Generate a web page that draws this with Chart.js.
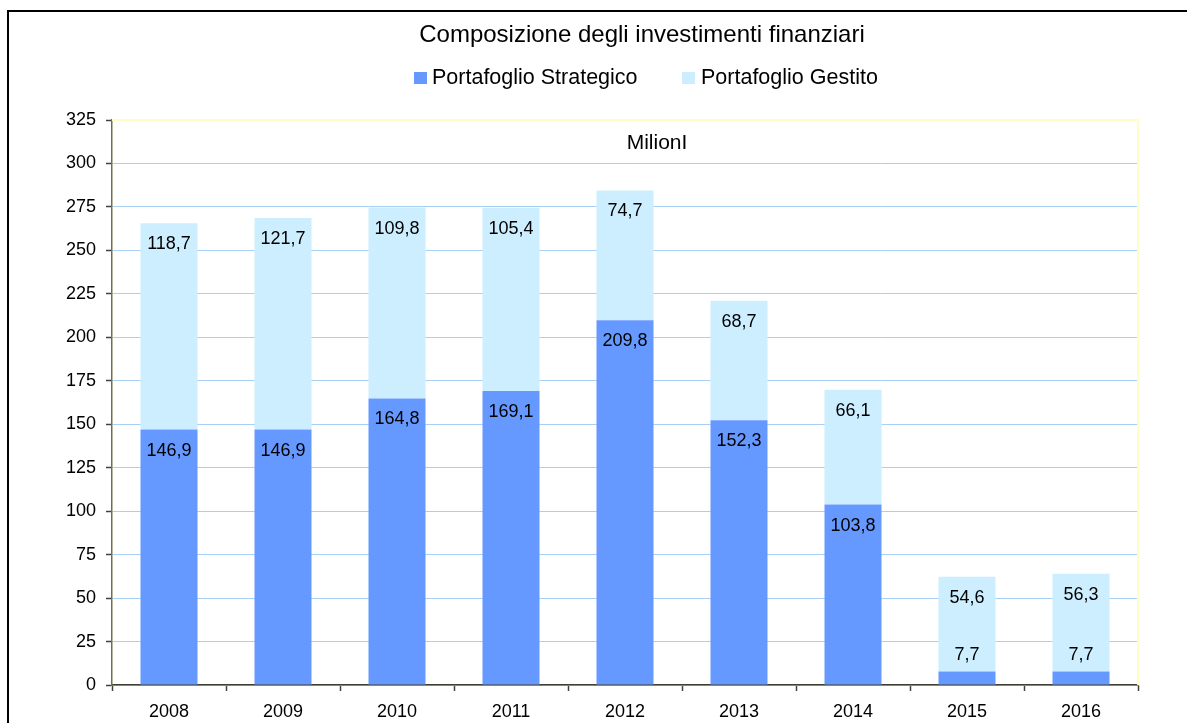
<!DOCTYPE html>
<html>
<head>
<meta charset="utf-8">
<script src="https://cdn.jsdelivr.net/npm/chart.js@4/dist/chart.umd.min.js"></script>
<style>
  html, body { margin: 0; padding: 0; background: #fff; }
  #wrap { width: 1187px; height: 723px; position: relative; }
</style>
</head>
<body>
<div id="wrap"><canvas id="chart" width="1187" height="723"></canvas></div>
<script>
  // Chart data
  const years = ['2008', '2009', '2010', '2011', '2012', '2013', '2014', '2015', '2016'];
  const strategico = [146.9, 146.9, 164.8, 169.1, 209.8, 152.3, 103.8, 7.7, 7.7];
  const gestito = [118.7, 121.7, 109.8, 105.4, 74.7, 68.7, 66.1, 54.6, 56.3];
  const seriesNames = ['Portafoglio Strategico', 'Portafoglio Gestito'];
  const seriesColors = ['#6699ff', '#cceeff'];
  const titleText = 'Composizione degli investimenti finanziari';
  const unitText = 'MilionI';

  const FONT = 'Arial, "Liberation Sans", sans-serif';

  // format like 146,9
  function fmt(v) {
    return v.toFixed(1).replace('.', ',');
  }

  // frame, title, legend, unit label
  const decorPlugin = {
    id: 'decor',
    beforeDraw(chart) {
      const ctx = chart.ctx;
      ctx.save();
      ctx.fillStyle = '#fff';
      ctx.fillRect(0, 0, chart.width, chart.height);
      ctx.strokeStyle = '#000';
      ctx.lineWidth = 2;
      ctx.beginPath();
      ctx.moveTo(8, chart.height + 5);
      ctx.lineTo(8, 11);
      ctx.lineTo(chart.width + 5, 11);
      ctx.stroke();
      ctx.restore();
    },
    afterDraw(chart) {
      const ctx = chart.ctx;
      const area = chart.chartArea;
      ctx.save();

      // pale yellow plot border (top and right)
      ctx.strokeStyle = '#ffffc4';
      ctx.lineWidth = 2;
      ctx.beginPath();
      ctx.moveTo(area.left, area.top);
      ctx.lineTo(area.right, area.top);
      ctx.lineTo(area.right, area.bottom);
      ctx.stroke();

      ctx.fillStyle = '#000';
      ctx.textBaseline = 'alphabetic';

      // title
      ctx.font = '24px ' + FONT;
      ctx.textAlign = 'center';
      ctx.fillText(titleText, 642, 42);

      // legend
      ctx.font = '21.5px ' + FONT;
      ctx.textAlign = 'left';
      const legendPos = [[414, 432], [682, 701]];
      chart.data.datasets.forEach((ds, i) => {
        ctx.fillStyle = ds.backgroundColor;
        ctx.fillRect(legendPos[i][0], 72, 13, 12);
        ctx.fillStyle = '#000';
        ctx.fillText(ds.label, legendPos[i][1], 84);
      });

      // unit label
      ctx.font = '21px ' + FONT;
      ctx.textAlign = 'center';
      ctx.fillText(unitText, 657, 149);

      // value labels, inside the top end of each segment
      ctx.font = '18px ' + FONT;
      ctx.textBaseline = 'middle';
      chart.data.datasets.forEach((ds, i) => {
        chart.getDatasetMeta(i).data.forEach((bar, j) => {
          const h = Math.abs(bar.base - bar.y);
          const y = h < 30 ? bar.y - 17 : bar.y + 21;
          ctx.fillText(fmt(ds.data[j]), bar.x, y);
        });
      });
      ctx.restore();
    }
  };

  const ctx = document.getElementById('chart').getContext('2d');
  new Chart(ctx, {
    type: 'bar',
    data: {
      labels: years,
      datasets: [
        { label: seriesNames[0], data: strategico, backgroundColor: seriesColors[0] },
        { label: seriesNames[1], data: gestito, backgroundColor: seriesColors[1] }
      ]
    },
    options: {
      responsive: false,
      animation: false,
      devicePixelRatio: 1,
      layout: { padding: { top: 120, right: 49, left: 0, bottom: 0 } },
      datasets: {
        bar: { categoryPercentage: 1, barPercentage: 0.5, borderWidth: 0 }
      },
      plugins: {
        legend: { display: false },
        title: { display: false },
        tooltip: { enabled: false }
      },
      scales: {
        x: {
          stacked: true,
          offset: true,
          afterFit(scale) { scale.height = 38; },
          grid: { offset: true, drawOnChartArea: false, tickLength: 6, tickColor: '#404040', tickWidth: 1.5 },
          border: { color: '#404030', width: 1.5 },
          ticks: { color: '#000', padding: 10, font: { size: 18, family: FONT } }
        },
        y: {
          stacked: true,
          min: 0,
          max: 325,
          afterFit(scale) { scale.width = 112; },
          grid: { color: '#a8d0f5', lineWidth: 1, tickLength: 6, tickColor: '#404040', tickWidth: 1.5 },
          border: { color: '#707048', width: 1.5 },
          ticks: { stepSize: 25, color: '#000', padding: 10, font: { size: 18, family: FONT } }
        }
      }
    },
    plugins: [decorPlugin]
  });
</script>
</body>
</html>
